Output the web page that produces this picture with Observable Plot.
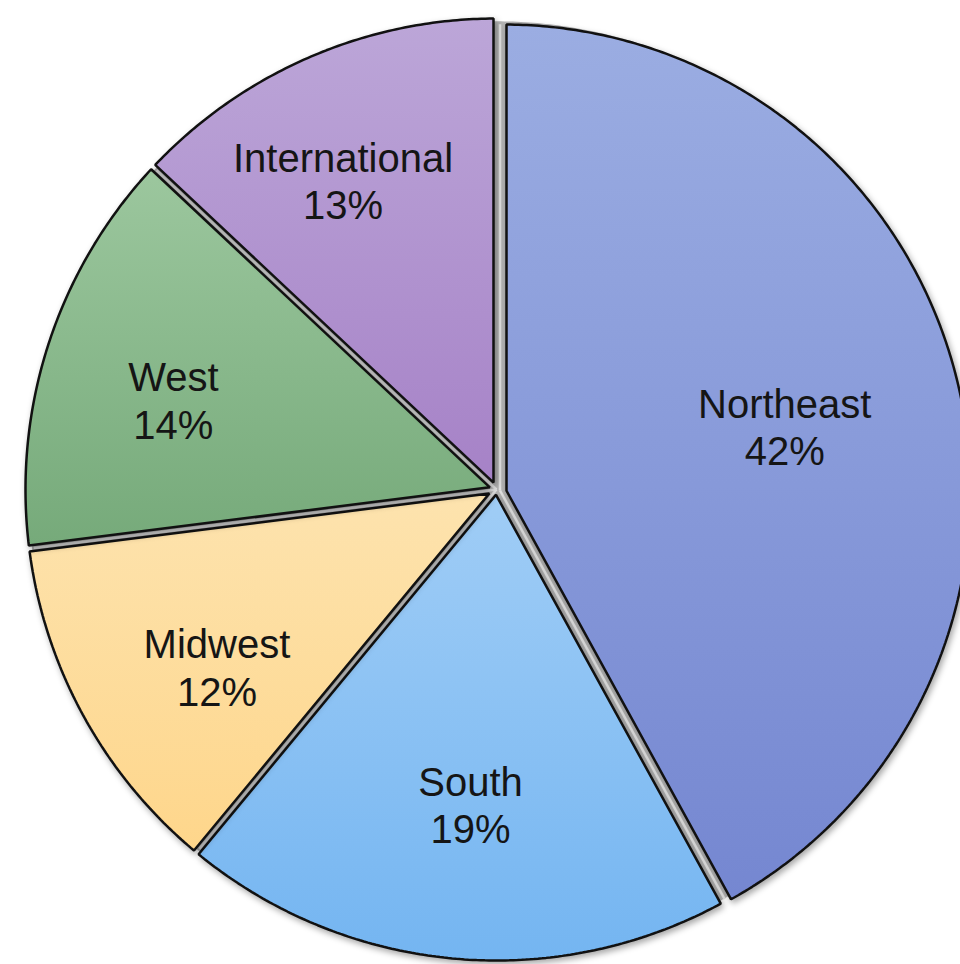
<!DOCTYPE html>
<html><head><meta charset="utf-8">
<script src="https://cdn.jsdelivr.net/npm/d3@7"></script>
<script src="https://cdn.jsdelivr.net/npm/@observablehq/plot@0.6"></script>
<style>html,body{margin:0;padding:0;background:#fff;overflow:hidden}svg{display:block}</style>
</head><body><div id="chart"></div>
<script>
// ---- data ----
const regions = ["Northeast", "South", "Midwest", "West", "International"];
const shares = [42, 19, 12, 14, 13];
const shareLabels = ["42%", "19%", "12%", "14%", "13%"];

// ---- styles ----
const topColors = ["#9badE2", "#a0cdf6", "#fde3ae", "#9cc79e", "#bca6d8"];
const bottomColors = ["#7587d1", "#74b5f1", "#fed68b", "#76aa7a", "#a682c7"];

// ---- layout (pixels / fractions) ----
const W = 960, H = 964, CX = 496, CY = 489, R = 471;
const k = 1 / R;                 // data units per pixel
const PAD = 3 * k;               // half gap between slices
const explode = {Northeast: {dx: 7 * k, dy: -2 * k, r: 467 / 471}};
const labelRadius = {Northeast: 0.618, South: 0.671, Midwest: 0.703, West: 0.712, International: 0.733};
const labelTurnDeg = {Northeast: 1.4, South: -0.7, Midwest: -3.6, West: -2.5, International: -3};

const rows = regions.map((name, i) => ({name, share: shares[i], label: shareLabels[i], i}));
const arcs = d3.pie().sort(null).value(d => d.share)(rows);

function geom(a) {
  const e = explode[a.data.name] || {dx: 0, dy: 0, r: 1};
  return {cx: e.dx, cy: e.dy, r: e.r};
}

// slice polygons
const slicePts = [];
arcs.forEach(a => {
  const {cx, cy, r} = geom(a);
  const i = a.data.i;
  const half = (a.endAngle - a.startAngle) / 2;
  const mid = a.startAngle + half;
  const ad = PAD / Math.sin(half);
  slicePts.push({i, x: cx + ad * Math.sin(mid), y: cy + ad * Math.cos(mid)});
  const s = a.startAngle + Math.asin(PAD / r), t = a.endAngle - Math.asin(PAD / r);
  const n = Math.ceil((t - s) / (Math.PI / 360));
  for (let j = 0; j <= n; j++) {
    const ang = s + (t - s) * j / n;
    slicePts.push({i, x: cx + r * Math.sin(ang), y: cy + r * Math.cos(ang)});
  }
});

// underlay disk
const disk = d3.range(0, 721).map(j => {
  const ang = j / 720 * 2 * Math.PI;
  return {x: 0.994 * Math.sin(ang), y: 0.994 * Math.cos(ang)};
});

// seams between slices
const seams = arcs.map((a, idx) => {
  const prev = arcs[(idx - 1 + arcs.length) % arcs.length];
  const g1 = geom(a), g0 = geom(prev);
  const cx = (g1.cx + g0.cx) / 2, cy = (g1.cy + g0.cy) / 2;
  const ang = a.startAngle;
  return {x1: cx, y1: cy, x2: cx + 0.99 * Math.sin(ang), y2: cy + 0.99 * Math.cos(ang)};
});

// labels
const labelRows = arcs.map(a => {
  const {cx, cy, r} = geom(a);
  const mid = (a.startAngle + a.endAngle) / 2 + labelTurnDeg[a.data.name] * Math.PI / 180;
  const f = labelRadius[a.data.name];
  return {x: cx + f * r * Math.sin(mid), y: cy + f * r * Math.cos(mid),
          text: a.data.name + "\n" + a.data.label};
});

const chart = Plot.plot({
  width: W, height: H, margin: 0,
  x: {domain: [-CX * k, (W - CX) * k], axis: null},
  y: {domain: [-(H - CY) * k, CY * k], axis: null},
  marks: [
    Plot.line(disk, {x: "x", y: "y", fill: "#b4b4b4", stroke: "none", curve: "linear-closed"}),
    Plot.link(seams, {x1: "x1", y1: "y1", x2: "x2", y2: "y2", stroke: "#e2e2e2", strokeWidth: 2.5}),
    ...arcs.map(a => Plot.line(slicePts.filter(d => d.i === a.data.i), {
      x: "x", y: "y", fill: `url(#grad${a.data.i})`, stroke: "#111", strokeWidth: 2.5,
      curve: "linear-closed", strokeLinejoin: "miter", ariaDescription: "slice"
    })),
    Plot.text(labelRows, {x: "x", y: "y", text: "text", fontSize: 40, lineHeight: 1.18,
      fill: "#151515", fontFamily: "'Liberation Sans', Arial, sans-serif"})
  ]
});

// gradients
const ns = "http://www.w3.org/2000/svg";
const defs = document.createElementNS(ns, "defs");
regions.forEach((name, i) => {
  const lg = document.createElementNS(ns, "linearGradient");
  lg.setAttribute("id", `grad${i}`);
  lg.setAttribute("x1", "0"); lg.setAttribute("y1", "0");
  lg.setAttribute("x2", "0"); lg.setAttribute("y2", "1");
  [[0, topColors[i]], [1, bottomColors[i]]].forEach(([o, c]) => {
    const st = document.createElementNS(ns, "stop");
    st.setAttribute("offset", o); st.setAttribute("stop-color", c);
    lg.appendChild(st);
  });
  defs.appendChild(lg);
});
chart.insertBefore(defs, chart.firstChild);
chart.querySelectorAll('g[aria-description="slice"]').forEach(g => {
  g.style.filter = "drop-shadow(2px 3px 3px rgba(0,0,0,0.35))";
});
document.getElementById("chart").appendChild(chart);
</script>
</body></html>
